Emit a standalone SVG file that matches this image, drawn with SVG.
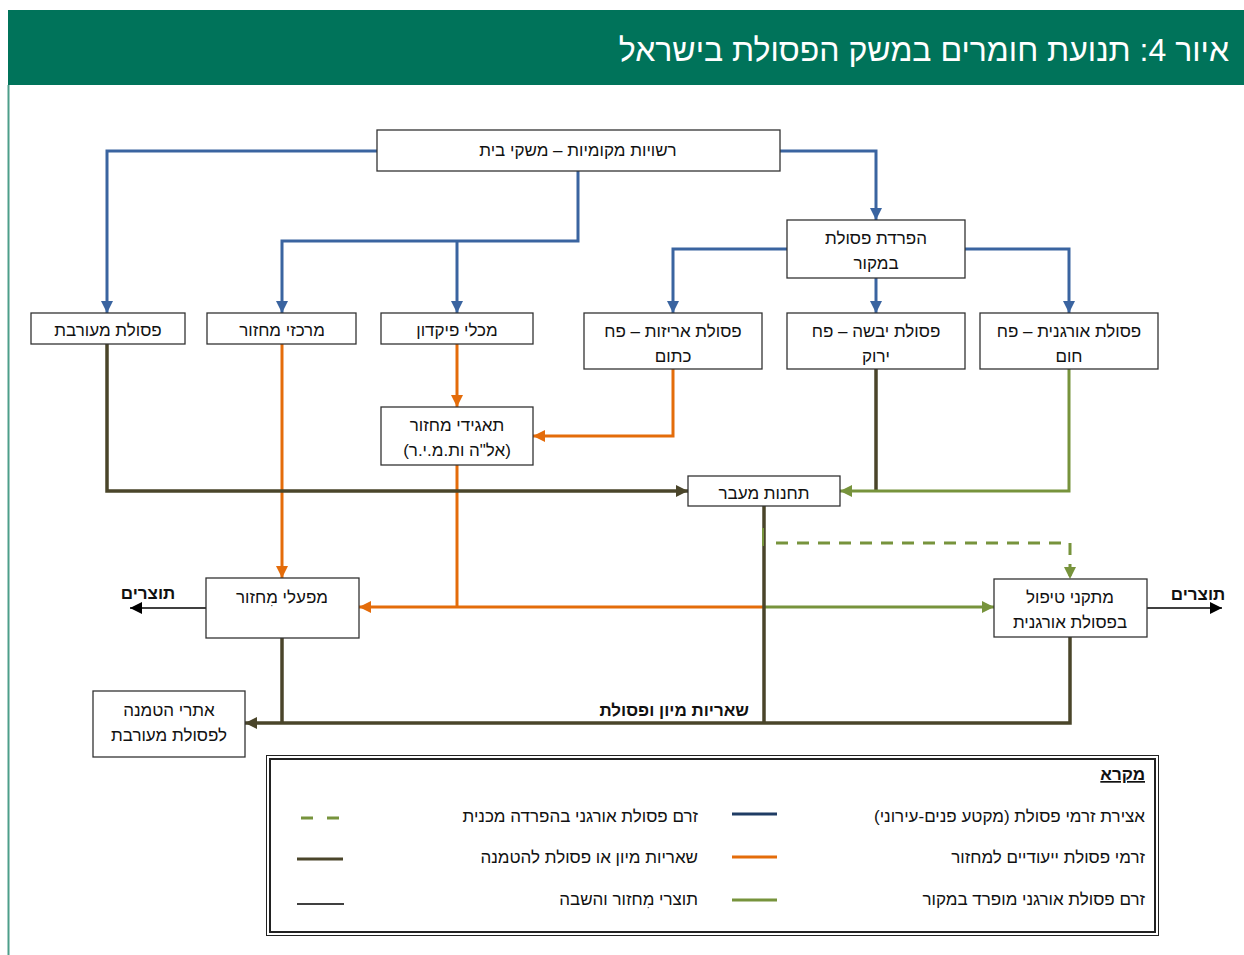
<svg xmlns="http://www.w3.org/2000/svg" width="1244" height="955" viewBox="0 0 1244 955">
<style>
text{font-family:"Liberation Sans","DejaVu Sans",sans-serif;font-size:17px;fill:#111;direction:rtl}
.box{fill:#fff;stroke:#333;stroke-width:1.3}
.c{text-anchor:middle}
.r{text-anchor:start}
.b{font-weight:bold}
.blue{fill:none;stroke:#3a64a0;stroke-width:3}
.or{fill:none;stroke:#e46c0a;stroke-width:3}
.gr{fill:none;stroke:#77933c;stroke-width:3}
.dk{fill:none;stroke:#4a452a;stroke-width:3.5}
.bk{fill:none;stroke:#000;stroke-width:1.3}
</style>
<defs>
<marker id="aBlue" markerUnits="userSpaceOnUse" markerWidth="12" markerHeight="12" refX="10" refY="5" orient="auto" viewBox="0 0 10 10"><path d="M0,0 L10,5 L0,10 z" fill="#3a64a0"/></marker>
<marker id="aOr" markerUnits="userSpaceOnUse" markerWidth="12" markerHeight="12" refX="10" refY="5" orient="auto" viewBox="0 0 10 10"><path d="M0,0 L10,5 L0,10 z" fill="#e46c0a"/></marker>
<marker id="aGr" markerUnits="userSpaceOnUse" markerWidth="12" markerHeight="12" refX="10" refY="5" orient="auto" viewBox="0 0 10 10"><path d="M0,0 L10,5 L0,10 z" fill="#77933c"/></marker>
<marker id="aDk" markerUnits="userSpaceOnUse" markerWidth="12" markerHeight="12" refX="10" refY="5" orient="auto" viewBox="0 0 10 10"><path d="M0,0 L10,5 L0,10 z" fill="#4a452a"/></marker>
<marker id="aBk" markerUnits="userSpaceOnUse" markerWidth="12" markerHeight="12" refX="10" refY="5" orient="auto" viewBox="0 0 10 10"><path d="M0,0 L10,5 L0,10 z" fill="#000"/></marker>
</defs>
<rect width="1244" height="955" fill="#fff"/>
<g id="header">
<rect x="8" y="10" width="1236" height="75" fill="#00735a"/>
<line x1="8.5" y1="85" x2="8.5" y2="955" stroke="#4d9e8a" stroke-width="2"/>
<text x="1229" y="61" class="r" style="font-size:32px;fill:#fff">איור 4: תנועת חומרים במשק הפסולת בישראל</text>
</g>
<g id="connectors">
<path class="blue" d="M377,151 H107 V313" marker-end="url(#aBlue)"/>
<path class="blue" d="M780,151 H876 V220" marker-end="url(#aBlue)"/>
<path class="blue" d="M578,171 V241 H282 V313" marker-end="url(#aBlue)"/>
<path class="blue" d="M457,241 V313" marker-end="url(#aBlue)"/>
<path class="blue" d="M787,249 H673 V313" marker-end="url(#aBlue)"/>
<path class="blue" d="M965,249 H1069 V313" marker-end="url(#aBlue)"/>
<path class="blue" d="M876,278 V313" marker-end="url(#aBlue)"/>
<path class="or" d="M457,344 V407" marker-end="url(#aOr)"/>
<path class="or" d="M673,369 V436 H533" marker-end="url(#aOr)"/>
<path class="or" d="M282,344 V578" marker-end="url(#aOr)"/>
<path class="or" d="M457,465 V607"/>
<path class="or" d="M764,607 H359" marker-end="url(#aOr)"/>
<path class="gr" d="M764,607 H994" marker-end="url(#aGr)"/>
<path class="dk" d="M107,344 V491 H688" marker-end="url(#aDk)"/>
<path class="dk" d="M876,369 V491"/>
<path class="gr" d="M1069,369 V491 H840" marker-end="url(#aGr)"/>
<path class="gr" d="M776,543 H1070 V579" stroke-dasharray="12 9" marker-end="url(#aGr)"/>
<path class="dk" d="M1070,637 V723 H245" marker-end="url(#aDk)"/>
<path class="dk" d="M282,638 V723"/>
<path class="dk" d="M764,506 V723"/>
<path d="M763,528 V546" stroke="#77933c" stroke-width="2" fill="none"/>
<path class="bk" d="M206,608 H130" marker-end="url(#aBk)"/>
<path class="bk" d="M1147,608 H1222" marker-end="url(#aBk)"/>
<text x="148" y="599" class="c b">תוצרים</text>
<text x="1198" y="600" class="c b">תוצרים</text>
<text x="749" y="716" class="r b">שאריות מיון ופסולת</text>
</g>
<g id="n-top"><rect class="box" x="377" y="130" width="403" height="41"/><text x="578" y="156" class="c">רשויות מקומיות – משקי בית</text></g>
<g id="n-separation"><rect class="box" x="787" y="220" width="178" height="58"/><text x="876" y="244" class="c">הפרדת פסולת</text><text x="876" y="269" class="c">במקור</text></g>
<g id="n-mixed"><rect class="box" x="31" y="313" width="154" height="31"/><text x="108" y="336" class="c">פסולת מעורבת</text></g>
<g id="n-centers"><rect class="box" x="207" y="313" width="149" height="31"/><text x="282" y="336" class="c">מרכזי מחזור</text></g>
<g id="n-deposit"><rect class="box" x="381" y="313" width="152" height="31"/><text x="457" y="336" class="c">מכלי פיקדון</text></g>
<g id="n-packaging"><rect class="box" x="584" y="313" width="178" height="56"/><text x="673" y="337" class="c">פסולת אריזות – פח</text><text x="673" y="362" class="c">כתום</text></g>
<g id="n-dry"><rect class="box" x="787" y="313" width="178" height="56"/><text x="876" y="337" class="c">פסולת יבשה – פח</text><text x="876" y="362" class="c">ירוק</text></g>
<g id="n-organic"><rect class="box" x="980" y="313" width="178" height="56"/><text x="1069" y="337" class="c">פסולת אורגנית – פח</text><text x="1069" y="362" class="c">חום</text></g>
<g id="n-corps"><rect class="box" x="381" y="407" width="152" height="58"/><text x="457" y="431" class="c">תאגידי מחזור</text><text x="457" y="456" class="c">(אל&quot;ה ות.מ.י.ר)</text></g>
<g id="n-transfer"><rect class="box" x="688" y="476" width="152" height="30"/><text x="764" y="499" class="c">תחנות מעבר</text></g>
<g id="n-plants"><rect class="box" x="206" y="578" width="153" height="60"/><text x="282" y="603" class="c">מפעלי מִחזור</text></g>
<g id="n-organic-plants"><rect class="box" x="994" y="579" width="153" height="58"/><text x="1070" y="603" class="c">מתקני טיפול</text><text x="1070" y="628" class="c">בפסולת אורגנית</text></g>
<g id="n-landfill"><rect class="box" x="93" y="691" width="152" height="66"/><text x="169" y="716" class="c">אתרי הטמנה</text><text x="169" y="741" class="c">לפסולת מעורבת</text></g>
<g id="legend">
<rect x="266.5" y="755.5" width="892" height="180" fill="#fff" stroke="#222" stroke-width="1"/>
<rect x="270" y="759" width="885" height="173" fill="none" stroke="#222" stroke-width="2"/>
<text x="1145" y="780" class="r b" text-decoration="underline">מקרא</text>
<text x="1145" y="822" class="r">אצירת זרמי פסולת (מקטע פנים-עירוני)</text>
<line x1="732" y1="814" x2="777" y2="814" stroke="#1f3c64" stroke-width="3"/>
<text x="1145" y="863" class="r">זרמי פסולת ייעודיים למחזור</text>
<line x1="732" y1="857" x2="777" y2="857" stroke="#e46c0a" stroke-width="3"/>
<text x="1145" y="905" class="r">זרם פסולת אורגני מופרד במקור</text>
<line x1="732" y1="900" x2="777" y2="900" stroke="#77933c" stroke-width="3"/>
<text x="698" y="822" class="r">זרם פסולת אורגני בהפרדה מכנית</text>
<line x1="301" y1="818" x2="339" y2="818" stroke="#77933c" stroke-width="3" stroke-dasharray="12 14"/>
<text x="698" y="863" class="r">שאריות מיון או פסולת להטמנה</text>
<line x1="297" y1="859" x2="343" y2="859" stroke="#4a452a" stroke-width="3"/>
<text x="698" y="905" class="r">תוצרי מִחזור והשבה</text>
<line x1="297" y1="904" x2="344" y2="904" stroke="#000" stroke-width="1.3"/>
</g>
</svg>
